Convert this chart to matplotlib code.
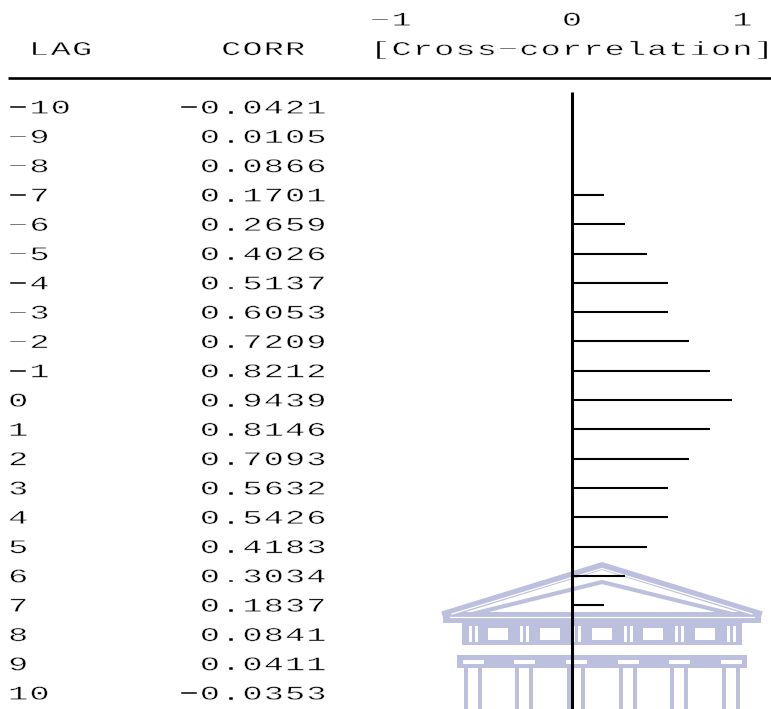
import numpy as np
import matplotlib.pyplot as plt
from matplotlib.textpath import TextPath
from matplotlib.patches import PathPatch, Rectangle
from matplotlib.font_manager import FontProperties
from matplotlib.transforms import Affine2D

# cross-correlation table
lags = np.arange(-10, 11)
corr = np.array([-0.0421, 0.0105, 0.0866, 0.1701, 0.2659, 0.4026, 0.5137,
                 0.6053, 0.7209, 0.8212, 0.9439, 0.8146, 0.7093, 0.5632,
                 0.5426, 0.4183, 0.3034, 0.1837, 0.0841, 0.0411, -0.0353])
scale_ticks = [-1, 0, 1]
col_titles = ["LAG", "CORR", "[Cross-correlation]"]

W, H = 771, 709
PX_X = 170.4     # pixels per correlation unit
PX_Y = 29.3      # pixels per printed line
X0, Y0 = 572, 400
CH = 1 / 8       # one character cell on the correlation scale

fig = plt.figure(figsize=(W / 100, H / 100), dpi=100)

# faint building watermark, drawn in pixel space underneath everything
wm = fig.add_axes([0, 0, 1, 1], zorder=0)
wm.set_xlim(0, W)
wm.set_ylim(H, 0)
wm.axis("off")
lav = "#bcc0de"
wm.plot([446, 602, 758], [614, 566, 614], color=lav, lw=5.5, solid_joinstyle="miter")
wm.plot([452, 602, 752], [614, 568.5, 614], color="white", lw=0.9, solid_joinstyle="miter")
wm.plot([472, 602, 732], [614, 582, 614], color=lav, lw=3, solid_joinstyle="miter")
wm.add_patch(Rectangle((443, 612), 318, 11, color=lav, lw=0))
wm.plot([450, 754], [617, 617], color="white", lw=0.9)
wm.add_patch(Rectangle((462, 623), 280, 22, color=lav, lw=0))
for x in [488, 540, 592, 643, 695]:
    wm.add_patch(Rectangle((x, 628), 20, 12, color="white", lw=0))
cols = [473, 524, 576, 628, 679, 731]
for c in cols:
    for dx in (-4, 2):
        wm.add_patch(Rectangle((c + dx, 626), 2.5, 16, color="white", lw=0))
wm.add_patch(Rectangle((457, 655), 290, 13, color=lav, lw=0))
for c in cols:
    wm.add_patch(Rectangle((c - 10, 660), 21, 4, color="white", lw=0))
    for dx in (-9, 5):
        wm.add_patch(Rectangle((c + dx, 668), 4, H - 668, color=lav, lw=0))

# main printout, x in correlation units and y in lines
ax = fig.add_axes([0, 0, 1, 1], zorder=1)
ax.patch.set_alpha(0)
ax.set_xlim(-X0 / PX_X, (W - X0) / PX_X)
ax.set_ylim((H - Y0) / PX_Y, -Y0 / PX_Y)
ax.axis("off")

fp = FontProperties(family="Liberation Mono")
EM = 19.5
STRETCH = 1.7
cap = TextPath((0, 0), "0", size=EM, prop=fp).get_extents().height


def put(s, col, row, align="left"):
    # draw a string on the character grid, one cell per character
    if align == "right":
        col = col - len(s) + 1
    for i, c in enumerate(s.replace("-", "\u2212")):
        if c == " ":
            continue
        tp = TextPath((0, 0), c, size=EM, prop=fp)
        tr = (Affine2D().translate(-0.3 * EM, -cap / 2)
              .scale(STRETCH / PX_X, -1 / PX_Y)
              .translate((col + i) * CH, row))
        # thin white rim takes the weight off the widened strokes
        ax.add_patch(PathPatch(tr.transform_path(tp), fc="black", ec="white", lw=0.35))


for t in scale_ticks:
    put(str(t), t * 8, -13, align="right")
put(col_titles[0], -25, -12)
put(col_titles[1], -16, -12)
put(col_titles[2], -9, -12)
ax.hlines(-11, -26.5 * CH, 2, color="black", lw=1.9)

for lag, r in zip(lags, corr):
    put(str(lag), -26, lag)
    put(f"{r:.4f}", -12, lag, align="right")

# bars are printed in whole character cells past the axis bar
cells = np.trunc(corr * 8)
has_bar = cells > 0
ax.hlines(lags[has_bar], 0, (cells[has_bar] + 0.5) * CH, color="black", lw=1.5)
ax.vlines(0, -10.5, 12, color="black", lw=2.2)

fig.savefig("out.png", dpi=100)
